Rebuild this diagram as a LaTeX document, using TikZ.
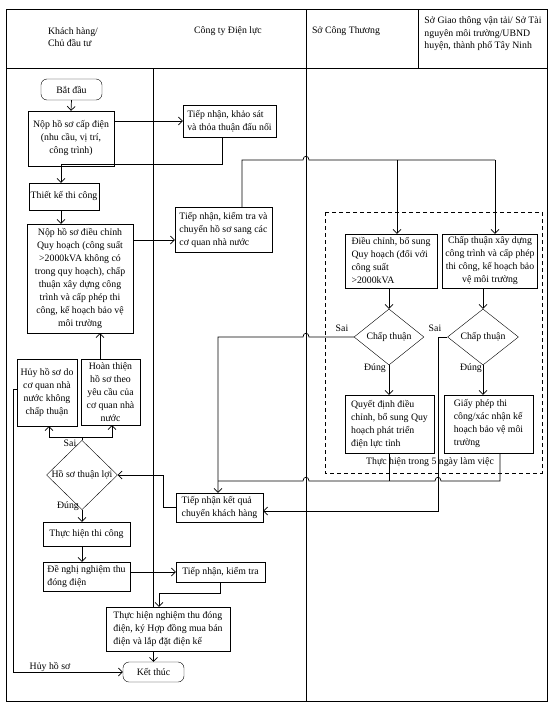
\documentclass[tikz,border=0pt]{standalone}
\usepackage{fontspec}
\setmainfont{Liberation Serif}
\usetikzlibrary{arrows.meta, positioning, shapes.geometric}
\tikzset{
    box/.style={draw, rectangle, inner sep=1.5pt, font=\fontsize{9.8}{13}\selectfont},
    lbox/.style={box, align=left},
    cbox/.style={box, align=center},
    term/.style={draw, rounded corners=6pt, minimum width=61pt, minimum height=21pt, font=\fontsize{9.8}{13}\selectfont},
    test/.style={draw, diamond, inner sep=0pt, font=\fontsize{9.8}{13}\selectfont},
    head/.style={inner sep=0pt, font=\fontsize{9.8}{12.5}\selectfont},
    tag/.style={inner sep=0pt, font=\fontsize{9.8}{12}\selectfont},
    flow/.style={-{Straight Barb[length=4pt, width=8pt]}, line width=0.7pt},
    link/.style={line width=0.7pt},
    lane/.style={line width=0.8pt}
}

\begin{document}
\begin{tikzpicture}[x=1pt, y=-1pt]
    \useasboundingbox (0,0) rectangle (558,707);
    % lanes
    \draw[lane] (6,9) rectangle (547,701);
    \draw[lane] (6,68) -- (547,68);
    \draw[lane] (306,9) -- (306,701);
    \draw[lane] (418,9) -- (418,68);
    \node[head, align=left] (hcust) at (73,37) {Khách hàng/\\Chủ đầu tư};
    \node[head] (hpower) at (228,31) {Công ty Điện lực};
    \node[head] (htrade) at (346,31) {Sở Công Thương};
    \node[head, align=left] (hdept) at (483,34) {Sở Giao thông vận tải/ Sở Tài\\nguyên môi trường/UBND\\huyện, thành phố Tây Ninh};

    % customer
    \node[term] (start) at (71.5,89.5) {Bắt đầu};
    \node[cbox, minimum width=86pt, minimum height=55pt] (submit) at (71,138.5) {Nộp hồ sơ cấp điện\\(nhu cầu, vị trí,\\công trình)};
    \node[lbox, minimum width=70pt, minimum height=27pt] (design) at (64,196.5) {Thiết kế thi công};
    \node[cbox, minimum width=106pt, minimum height=109pt] (adjust) at (80,278.5) {Nộp hồ sơ điều chỉnh\\Quy hoạch (công suất\\>2000kVA không có\\trong quy hoạch), chấp\\thuận xây dựng công\\trình và cấp phép thi\\công, kế hoạch bảo vệ\\môi trường};
    \node[cbox, inner xsep=1pt, minimum width=60pt, minimum height=67pt] (cancel) at (47,392.5) {Hủy hồ sơ do\\cơ quan nhà\\nước không\\chấp thuận};
    \node[cbox, inner xsep=1pt, minimum width=59pt, minimum height=66pt] (revise) at (110.5,392) {Hoàn thiện\\hồ sơ theo\\yêu cầu của\\cơ quan nhà\\nước};
    \node[test, minimum width=71pt, minimum height=54pt] (ok) at (82,475) {Hồ sơ thuận lợi};
    \node[cbox, minimum width=87pt, minimum height=24pt] (build) at (86.5,534) {Thực hiện thi công};
    \node[lbox, minimum width=87pt, minimum height=29pt] (request) at (86.5,576.5) {Đề nghị nghiệm thu\\đóng điện};
    \node[lbox, minimum width=124pt, minimum height=44pt] (accept) at (168,629) {Thực hiện nghiệm thu đóng\\điện, ký Hợp đồng mua bán\\điện và lắp đặt điện kế};
    \node[term, minimum height=20pt] (end) at (153.5,672) {Kết thúc};

    % power company
    \node[lbox, minimum width=93pt, minimum height=32pt] (survey) at (229.5,121) {Tiếp nhận, khảo sát\\và thỏa thuận đấu nối};
    \node[lbox, minimum width=97pt, minimum height=45pt] (check) at (223.5,229.5) {Tiếp nhận, kiểm tra và\\chuyển hồ sơ sang các\\cơ quan nhà nước};
    \node[lbox, minimum width=87pt, minimum height=29pt] (result) at (219.5,507.5) {Tiếp nhận kết quả\\chuyển khách hàng};
    \node[lbox, minimum width=89pt, minimum height=20pt] (inspect) at (220.5,572) {Tiếp nhận, kiểm tra};

    % state agencies
    \draw[link, dash pattern=on 4pt off 3pt] (325,212) rectangle (542,473);
    \node[lbox, minimum width=92pt, minimum height=54pt] (plan) at (391,261) {Điều chỉnh, bổ sung\\Quy hoạch (đối với\\công suất\\>2000kVA};
    \node[cbox, minimum width=95pt, minimum height=54pt] (permit) at (490,261) {Chấp thuận xây dựng\\công trình và cấp phép\\thi công, kế hoạch bảo\\vệ môi trường};
    \node[test, minimum width=70pt, minimum height=56pt] (dec1) at (389,337) {Chấp thuận};
    \node[test, minimum width=71pt, minimum height=56pt] (dec2) at (483,337) {Chấp thuận};
    \node[lbox, minimum width=89pt, minimum height=58pt] (decision) at (389.5,424) {Quyết định điều\\chỉnh, bổ sung Quy\\hoạch phát triển\\điện lực tỉnh};
    \node[lbox, minimum width=89pt, minimum height=58pt] (licence) at (488.5,424) {Giấy phép thi\\công/xác nhận kế\\hoạch bảo vệ môi\\trường};
    \node[tag] (window) at (430,462) {Thực hiện trong 5 ngày làm việc};

    \draw[lane] (153,68) -- (accept.north -| 153,0);

    % customer flow
    \draw[flow] (start.south) -- (submit.north);
    \draw[flow] (submit.east |- survey.west) -- (survey.west);
    \draw[flow] (survey.south -| 222,0) -- (222,164) -| (design.north -| 61,0);
    \draw[flow] (design.south -| 61,0) -- (adjust.north -| 61,0);
    \draw[flow] (adjust.east |- 0,240) -- (check.west |- 0,240);
    \coordinate (forkA) at (397,160);
    \coordinate (forkB) at (495,160);
    \draw[link] (check.north -| 242,0) -- (242,160) -- (303,160) .. controls (303,155) and (309,155) .. (309,160) -- (forkB);
    \draw[flow] (forkA) -- (forkA |- plan.north);
    \draw[flow] (forkB) -- (forkB |- permit.north);

    % agency flow
    \draw[flow] (dec1.north |- plan.south) -- (dec1.north);
    \draw[flow] (dec2.north |- permit.south) -- (dec2.north);
    \draw[flow] (dec1.south) -- (dec1.south |- decision.north);
    \draw[flow] (dec2.south) -- (dec2.south |- licence.north);
    \node[tag] (yes1) at (375,368) {Đúng};
    \node[tag] (yes2) at (471,368) {Đúng};
    \node[tag] (no1) at (342,328) {Sai};
    \node[tag] (no2) at (435,328) {Sai};
    \draw[flow] (dec1.west) -- (309,337) .. controls (309,332) and (303,332) .. (303,337) -- (218,337) -- (result.north -| 218,0);
    \draw[flow] (dec2.west) -- (438,337) -- (438,511) -- (result.east |- 0,511);
    \draw[link] (licence.south -| 500,0) -- (500,481) -- (441,481) .. controls (441,476) and (435,476) .. (435,481) -- (309,481) .. controls (309,476) and (303,476) .. (303,481) -- (218,481);
    \draw[link] (decision.south -| 389,0) -- (389,481);

    % back to customer
    \draw[flow] (result.west) -- (result.west -| 163,0) |- (ok.east);
    \coordinate (split) at (82,437);
    \draw[flow] (ok.north) -- (split) -| (cancel.south -| 49,0);
    \draw[flow] (split) -| (revise.south -| 112,0);
    \node[tag] (no0) at (70,443) {Sai};
    \draw[flow] (revise.north -| 100,0) -- (adjust.south -| 100,0);
    \draw[flow] (cancel.west |- 0,389) -- (13,389) |- (end.west);
    \node[tag] (drop) at (50,667) {Hủy hồ sơ};
    \draw[flow] (ok.south) -- (ok.south |- build.north);
    \node[tag] (yes0) at (68,506) {Đúng};
    \draw[flow] (build.south -| 82,0) -- (request.north -| 82,0);
    \draw[flow] (request.east |- inspect.west) -- (inspect.west);
    \draw[flow] (inspect.south) -- ++(0,11) -| (accept.north -| 159,0);
    \draw[flow] (end.north |- accept.south) -- (end.north);
\end{tikzpicture}
\end{document}
